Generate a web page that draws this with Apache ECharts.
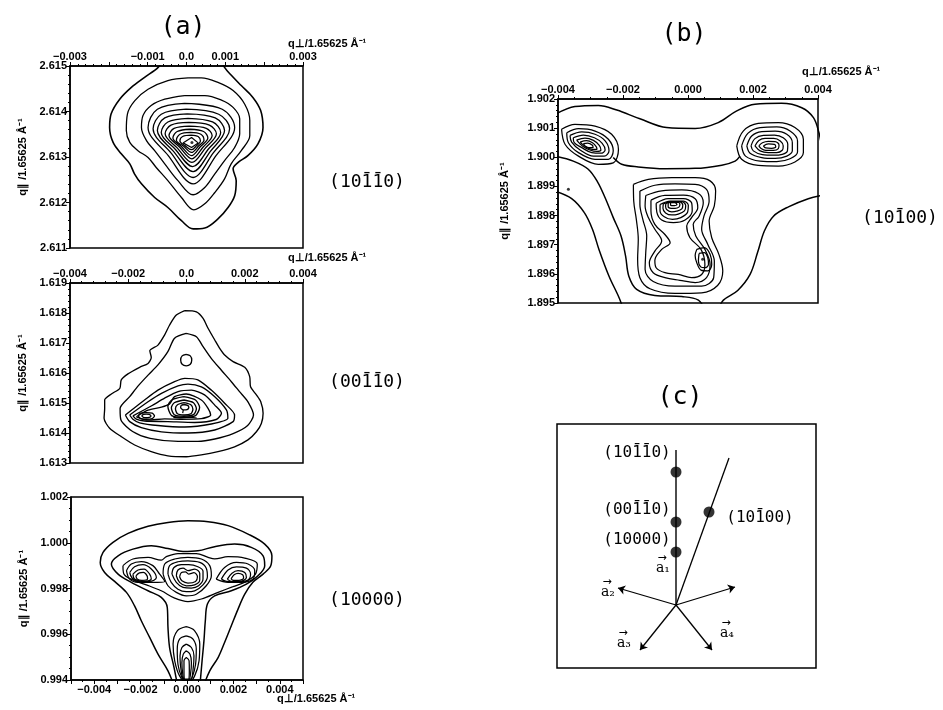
<!DOCTYPE html>
<html><head><meta charset="utf-8">
<script src="https://cdn.jsdelivr.net/npm/echarts@6/dist/echarts.min.js"></script>
<style>html,body{margin:0;padding:0;background:#fff}#c{width:943px;height:710px}</style>
</head><body><div id="c"></div>
<script>
// ---------- DATA (contours in units of 1e-3: [q_perp, q_par] pairs, flattened) ----------
const MINUS = '\u2212';
const a1XTickValues = [-0.003,-0.002,-0.001,0,0.001,0.002,0.003];
const a1XTickLabels = [MINUS+'0.003','',MINUS+'0.001','0.0','0.001','','0.003'];
const a1YTickValues = [2.611,2.612,2.613,2.614,2.615];
const a1YTickLabels = ['2.611','2.612','2.613','2.614','2.615'];
const a2XTickValues = [-0.004,-0.002,0,0.002,0.004];
const a2XTickLabels = [MINUS+'0.004',MINUS+'0.002','0.0','0.002','0.004'];
const a2YTickValues = [1.613,1.614,1.615,1.616,1.617,1.618,1.619];
const a2YTickLabels = ['1.613','1.614','1.615','1.616','1.617','1.618','1.619'];
const a3XTickValues = [-0.004,-0.002,0,0.002,0.004];
const a3XTickLabels = [MINUS+'0.004',MINUS+'0.002','0.000','0.002','0.004'];
const a3YTickValues = [0.994,0.996,0.998,1.000,1.002];
const a3YTickLabels = ['0.994','0.996','0.998','1.000','1.002'];
const bXTickValues = [-0.004,-0.002,0,0.002,0.004];
const bXTickLabels = [MINUS+'0.004',MINUS+'0.002','0.000','0.002','0.004'];
const bYTickValues = [1.895,1.896,1.897,1.898,1.899,1.900,1.901,1.902];
const bYTickLabels = ['1.895','1.896','1.897','1.898','1.899','1.900','1.901','1.902'];

// Panel (a) top: (10-1-10)
const a1Open = [
 [-0.48,2615.26,-0.73,2614.97,-1.08,2614.75,-1.42,2614.53,-1.72,2614.27,-1.94,2613.95,-1.98,2613.65,-1.89,2613.32,-1.68,2613.07,-1.46,2612.85,-1.34,2612.63,-1.16,2612.41,-0.82,2612.11,-0.48,2611.89,-0.13,2611.60,0.17,2611.42,0.47,2611.44,0.81,2611.64,1.07,2611.89,1.24,2612.15,1.28,2612.48,1.20,2612.74,1.33,2612.88,1.58,2613.03,1.84,2613.29,1.97,2613.65,1.91,2614.02,1.71,2614.31,1.41,2614.57,1.16,2614.79,0.98,2614.97,0.81,2615.26]
];
const a1Closed = [
 [0.04,2614.74,-0.48,2614.68,-0.99,2614.49,-1.33,2614.24,-1.52,2613.95,-1.55,2613.58,-1.46,2613.32,-1.25,2613.14,-0.99,2612.99,-0.78,2612.77,-0.48,2612.48,-0.13,2612.11,0.19,2611.84,0.47,2611.97,0.73,2612.22,0.98,2612.52,1.15,2612.85,1.41,2613.14,1.63,2613.47,1.63,2613.80,1.50,2614.16,1.20,2614.46,0.81,2614.64,0.38,2614.74],
 [-0.05,2614.35,-0.56,2614.27,-0.91,2614.13,-1.12,2613.91,-1.16,2613.65,-1.03,2613.36,-0.82,2613.14,-0.56,2612.85,-0.22,2612.48,0.17,2612.17,0.47,2612.33,0.73,2612.63,0.98,2612.92,1.24,2613.21,1.37,2613.51,1.37,2613.84,1.20,2614.09,0.90,2614.25,0.47,2614.35],
 [-0.05,2614.18,0.92,2614.05,1.24,2613.65,0.76,2613.03,0.17,2612.41,-0.47,2613.03,-0.99,2613.65,-0.75,2614.05],
 [-0.01,2614.05,0.83,2613.94,1.11,2613.62,0.69,2613.09,0.17,2612.55,-0.40,2613.09,-0.86,2613.62,-0.65,2613.94],
 [0.02,2613.95,0.74,2613.86,0.98,2613.58,0.62,2613.13,0.17,2612.68,-0.34,2613.13,-0.75,2613.58,-0.56,2613.86],
 [0.04,2613.85,0.67,2613.77,0.88,2613.54,0.56,2613.17,0.16,2612.79,-0.29,2613.17,-0.65,2613.54,-0.48,2613.77],
 [0.06,2613.76,0.59,2613.70,0.77,2613.51,0.49,2613.20,0.14,2612.88,-0.24,2613.20,-0.55,2613.51,-0.40,2613.70],
 [0.07,2613.68,0.51,2613.63,0.66,2613.47,0.43,2613.22,0.14,2612.96,-0.18,2613.22,-0.45,2613.47,-0.32,2613.63],
 [0.09,2613.61,0.44,2613.56,0.55,2613.42,0.36,2613.23,0.13,2613.03,-0.13,2613.23,-0.35,2613.42,-0.24,2613.56],
 [0.10,2613.54,0.37,2613.50,0.45,2613.37,0.31,2613.24,0.13,2613.10,-0.08,2613.24,-0.26,2613.37,-0.17,2613.50],
 [0.12,2613.48,0.30,2613.45,0.36,2613.35,0.26,2613.25,0.13,2613.16,-0.04,2613.25,-0.17,2613.35,-0.10,2613.45]
];
const a1Sharp = [[0.13,2613.43,0.30,2613.31,0.13,2613.21,-0.09,2613.31]];
const a1Peak = [[0.14,2613.32]];

// Panel (a) middle: (00-1-10)
const a2Open = [
 [-0.11,1614.77,-0.13,1614.66],
 [-0.45,1614.52,-0.2,1614.50,0.1,1614.53,0.35,1614.50]
];
const a2Closed = [
 [-0.06,1618.08,0.34,1618.04,0.57,1617.82,0.74,1617.49,0.97,1617.10,1.14,1616.82,1.31,1616.60,1.60,1616.38,2.00,1616.19,2.17,1615.88,2.20,1615.54,2.40,1615.27,2.55,1615.04,2.63,1614.66,2.57,1614.32,2.40,1614.04,2.11,1613.77,1.65,1613.54,1.08,1613.38,0.51,1613.27,-0.01,1613.21,-0.64,1613.24,-1.21,1613.38,-1.78,1613.60,-2.24,1613.88,-2.64,1614.16,-2.83,1614.49,-2.81,1614.82,-2.81,1615.10,-2.58,1615.30,-2.29,1615.49,-2.24,1615.77,-2.01,1615.97,-1.61,1616.19,-1.32,1616.32,-1.21,1616.52,-1.26,1616.74,-0.98,1616.93,-0.75,1617.27,-0.58,1617.60,-0.35,1617.93],
 [-0.01,1617.32,-0.41,1617.16,-0.64,1616.71,-0.98,1616.27,-1.32,1615.93,-1.66,1615.57,-1.95,1615.21,-2.28,1614.82,-2.25,1614.43,-1.85,1614.05,-1.25,1613.82,-0.29,1613.72,0.39,1613.72,0.97,1613.80,1.60,1613.98,2.10,1614.25,2.30,1614.60,2.11,1615.04,1.82,1615.38,1.54,1615.71,1.19,1616.10,0.85,1616.49,0.57,1616.88,0.34,1617.21],
 [-0.01,1616.62,0.13,1616.57,0.18,1616.43,0.13,1616.29,-0.01,1616.24,-0.15,1616.29,-0.20,1616.43,-0.15,1616.57],
 [-2.10,1614.60,-1.44,1615.10,-0.98,1615.43,-0.41,1615.71,-0.06,1615.82,0.39,1615.77,0.85,1615.43,1.31,1614.99,1.65,1614.60,1.60,1614.38,0.97,1614.10,0.05,1614.00,-0.86,1614.04,-1.55,1614.18,-1.95,1614.38],
 [-1.95,1614.60,-1.32,1615.04,-0.86,1615.32,-0.29,1615.57,0.05,1615.63,0.51,1615.54,0.97,1615.21,1.37,1614.77,1.42,1614.49,0.85,1614.30,-0.06,1614.20,-0.98,1614.25,-1.61,1614.34,-1.84,1614.46],
 [-1.84,1614.57,-1.21,1614.90,-0.75,1615.16,-0.29,1615.38,0.17,1615.43,0.62,1615.27,0.97,1614.93,1.20,1614.66,1.02,1614.45,0.28,1614.35,-0.64,1614.38,-1.44,1614.40,-1.72,1614.46],
 [-1.72,1614.54,-1.32,1614.76,-0.86,1614.86,-0.58,1614.97,-0.41,1615.21,-0.01,1615.30,0.51,1615.10,0.74,1614.82,0.83,1614.60,0.51,1614.48,-0.18,1614.46,-0.75,1614.47,-1.32,1614.43],
 [-1.66,1614.57,-1.58,1614.66,-1.38,1614.68,-1.18,1614.66,-1.10,1614.57,-1.18,1614.48,-1.38,1614.46,-1.58,1614.48],
 [-1.54,1614.57,-1.48,1614.62,-1.38,1614.63,-1.28,1614.62,-1.22,1614.57,-1.28,1614.52,-1.38,1614.51,-1.48,1614.52],
 [-0.10,1615.21,0.31,1615.10,0.45,1614.85,0.31,1614.58,-0.10,1614.52,-0.51,1614.58,-0.64,1614.89,-0.51,1615.10],
 [-0.09,1615.10,0.24,1615.01,0.34,1614.81,0.24,1614.61,-0.09,1614.56,-0.42,1614.61,-0.52,1614.84,-0.42,1615.01],
 [-0.08,1615.01,0.15,1614.94,0.22,1614.79,0.15,1614.64,-0.08,1614.60,-0.31,1614.64,-0.38,1614.81,-0.31,1614.94],
 [-0.09,1614.95,0.04,1614.92,0.08,1614.85,0.02,1614.78,-0.11,1614.77,-0.20,1614.84,-0.18,1614.92]
];

// Panel (a) bottom: (10000)
const a3Open = [
 [-0.53,993.67,-0.82,994.40,-1.25,995.13,-1.61,995.86,-1.97,996.59,-2.26,997.24,-2.61,997.83,-3.12,998.31,-3.55,998.70,-3.74,999.14,-3.62,999.58,-3.19,1000.02,-2.54,1000.41,-1.68,1000.72,-0.82,1000.89,0.04,1000.96,0.91,1000.92,1.77,1000.75,2.63,1000.38,3.35,999.94,3.66,999.43,3.61,998.99,3.28,998.63,2.84,998.27,2.49,997.75,2.20,997.10,1.91,996.37,1.62,995.64,1.34,994.98,0.98,994.40,0.69,993.67],
 [-0.39,993.67,-0.56,994.55,-0.75,995.42,-0.82,996.30,-0.85,997.17,-1.11,997.61,-1.68,997.90,-2.40,998.27,-2.97,998.63,-3.26,999.07,-2.97,999.43,-2.33,999.72,-1.54,999.87,-0.82,999.75,-0.17,999.62,0.47,999.65,1.19,999.83,2.05,999.94,2.77,999.80,3.28,999.43,3.35,999.00,3.06,998.56,2.56,998.19,1.91,997.90,1.19,997.68,0.88,997.32,0.79,996.59,0.73,995.71,0.65,994.84,0.55,993.67]
];
const a3Closed = [
 [-2.76,999.00,-2.33,999.29,-1.68,999.36,-1.11,999.24,-0.89,999.39,-0.39,999.53,0.40,999.53,0.91,999.36,1.19,999.29,1.77,999.39,2.49,999.33,3.03,999.07,2.95,998.63,2.56,998.31,1.98,998.08,1.34,997.83,0.62,997.54,0.04,997.43,-0.53,997.58,-1.11,997.90,-1.75,998.16,-2.33,998.37,-2.72,998.63],
 [-2.61,998.78,-2.40,999.07,-1.97,999.18,-1.47,999.00,-1.18,998.63,-0.96,998.31,-1.54,998.27,-2.11,998.27,-2.47,998.41],
 [-2.47,998.70,-2.26,998.95,-1.90,999.04,-1.54,998.85,-1.32,998.48,-1.61,998.31,-2.11,998.31,-2.37,998.46],
 [-2.33,998.63,-2.11,998.81,-1.85,998.85,-1.61,998.63,-1.54,998.41,-1.90,998.31,-2.26,998.41],
 [-2.20,998.55,-2.05,998.68,-1.88,998.70,-1.72,998.55,-1.70,998.42,-1.95,998.36,-2.15,998.42],
 [1.26,998.41,1.62,998.92,2.13,999.14,2.63,999.07,2.92,998.78,2.84,998.41,2.34,998.27,1.77,998.27],
 [1.48,998.41,1.77,998.81,2.13,998.95,2.56,998.89,2.74,998.63,2.63,998.37,2.13,998.29,1.70,998.31],
 [1.74,998.41,1.94,998.67,2.20,998.78,2.49,998.70,2.56,998.48,2.27,998.31,1.91,998.31],
 [1.90,998.42,2.03,998.60,2.20,998.66,2.40,998.60,2.44,998.46,2.24,998.36,2.00,998.36],
 [-1.03,998.63,-0.96,999.07,-0.53,999.29,0.04,999.36,0.62,999.29,0.98,999.00,1.05,998.56,0.83,998.12,0.40,997.75,-0.03,997.68,-0.46,997.83,-0.82,998.12],
 [-0.82,998.63,-0.75,999.00,-0.39,999.17,0.04,999.21,0.55,999.14,0.83,998.89,0.88,998.51,0.69,998.16,0.33,997.90,-0.03,997.86,-0.39,997.97,-0.68,998.27],
 [-0.65,998.63,-0.56,998.92,-0.24,999.04,0.07,999.04,0.47,998.95,0.69,998.75,0.69,998.41,0.50,998.12,0.19,998.02,-0.17,998.05,-0.46,998.27],
 [-0.46,998.56,-0.39,998.81,-0.17,998.89,0.04,998.78,0.33,998.85,0.55,998.66,0.55,998.37,0.33,998.16,-0.03,998.12,-0.32,998.27],
 [-0.32,998.51,-0.24,998.70,-0.07,998.73,0.07,998.63,0.30,998.69,0.45,998.51,0.37,998.31,0.04,998.24,-0.22,998.34],
 [-0.03,996.33,0.33,996.15,0.55,995.57,0.52,994.84,0.33,994.18,0.04,993.82,-0.32,994.18,-0.53,994.84,-0.60,995.57,-0.42,996.15],
 [-0.03,995.93,0.26,995.79,0.40,995.35,0.37,994.69,0.22,994.11,0.04,993.82,-0.22,994.11,-0.39,994.69,-0.42,995.35,-0.32,995.79],
 [-0.03,995.57,0.19,995.42,0.30,995.06,0.27,994.55,0.16,994.04,-0.13,994.04,-0.27,994.55,-0.30,995.06,-0.22,995.42],
 [-0.03,995.28,0.13,995.13,0.19,994.76,0.16,994.33,0.07,993.96,-0.10,993.96,-0.19,994.33,-0.22,994.76,-0.16,995.13],
 [-0.03,994.98,0.09,994.84,0.10,994.40,0.04,993.96,-0.07,993.96,-0.13,994.40,-0.13,994.84]
];

// Panel (b): (10-100)
const bOpen = [
 [-4.09,1901.47,-3.48,1901.74,-2.76,1901.78,-2.19,1901.62,-1.48,1901.32,-0.66,1901.02,0.22,1900.99,0.93,1901.19,1.50,1901.59,2.06,1901.82,2.88,1901.85,3.50,1901.70,3.86,1901.36,4.03,1900.84,4.11,1900.39],
 [-4.09,1898.84,-3.58,1898.58,-3.19,1898.10,-2.94,1897.53,-2.74,1896.84,-2.43,1895.92,-2.12,1895.18,-1.99,1894.78],
 [-4.09,1900.04,-3.53,1899.87,-3.07,1899.59,-2.78,1899.15,-2.55,1898.61,-2.30,1897.93,-2.06,1897.30,-1.92,1896.61,-1.82,1895.92,-1.58,1895.47,-1.02,1895.26,-0.19,1895.22,0.32,1895.10,0.65,1894.67,0.81,1894.67,1.09,1895.10,1.53,1895.43,1.91,1895.98,2.14,1896.73,2.35,1897.47,2.63,1897.98,3.09,1898.30,3.70,1898.58,4.11,1898.69],
 [-2.30,1899.99,-2.04,1899.76,-1.53,1899.67,-0.71,1899.61,0.22,1899.62,1.04,1899.73,1.45,1899.87,1.60,1900.04]
];
const bClosed = [
 [-1.68,1899.07,-1.22,1899.24,-0.50,1899.30,0.22,1899.30,0.68,1899.19,0.85,1898.84,0.81,1898.33,0.65,1897.81,0.73,1897.24,0.95,1896.67,1.07,1896.10,0.91,1895.60,0.42,1895.35,-0.40,1895.33,-1.17,1895.49,-1.48,1895.87,-1.55,1896.50,-1.53,1897.18,-1.59,1897.87,-1.67,1898.50],
 [-1.48,1898.84,-1.02,1899.04,-0.40,1899.09,0.22,1899.07,0.57,1898.90,0.65,1898.50,0.49,1897.98,0.42,1897.53,0.61,1897.01,0.81,1896.44,0.79,1895.87,0.42,1895.58,-0.40,1895.58,-1.07,1895.74,-1.32,1896.15,-1.30,1896.73,-1.27,1897.30,-1.39,1897.87,-1.48,1898.38],
 [-1.30,1898.69,-0.81,1898.85,-0.19,1898.88,0.32,1898.76,0.47,1898.44,0.34,1897.98,0.16,1897.70,0.24,1897.30,0.52,1896.84,0.68,1896.32,0.57,1895.87,0.22,1895.70,-0.25,1895.78,-0.71,1895.87,-1.07,1896.04,-1.19,1896.38,-1.02,1896.78,-0.81,1897.13,-1.02,1897.53,-1.22,1897.93,-1.32,1898.33],
 [-1.14,1898.53,-0.71,1898.69,-0.14,1898.70,0.22,1898.58,0.30,1898.27,0.11,1897.93,-0.04,1897.64,0.06,1897.24,0.40,1896.84,0.52,1896.32,0.42,1895.98,0.11,1895.87,-0.30,1895.98,-0.71,1896.04,-0.98,1896.21,-1.02,1896.47,-0.81,1896.84,-0.55,1897.07,-0.71,1897.35,-1.02,1897.70,-1.14,1898.16],
 [-0.98,1898.42,-0.61,1898.58,-0.14,1898.58,0.11,1898.44,0.13,1898.16,-0.09,1897.85,-0.45,1897.76,-0.81,1897.85,-0.96,1898.12],
 [-0.86,1898.38,-0.55,1898.50,-0.14,1898.50,0.01,1898.35,-0.01,1898.12,-0.22,1897.93,-0.48,1897.87,-0.73,1897.96,-0.86,1898.16],
 [-0.76,1898.40,-0.50,1898.48,-0.19,1898.48,-0.07,1898.34,-0.11,1898.16,-0.30,1898.05,-0.50,1898.02,-0.69,1898.09,-0.77,1898.25],
 [-0.68,1898.42,-0.48,1898.47,-0.25,1898.47,-0.16,1898.36,-0.19,1898.23,-0.35,1898.15,-0.50,1898.13,-0.64,1898.19,-0.69,1898.31],
 [-0.61,1898.44,-0.45,1898.45,-0.30,1898.45,-0.25,1898.38,-0.28,1898.29,-0.40,1898.25,-0.52,1898.25,-0.61,1898.30],
 [-0.54,1898.44,-0.40,1898.44,-0.34,1898.38,-0.42,1898.34,-0.53,1898.35],
 [0.27,1896.84,0.50,1896.90,0.68,1896.67,0.73,1896.32,0.61,1896.10,0.40,1896.13,0.27,1896.38,0.22,1896.63],
 [0.34,1896.70,0.50,1896.73,0.61,1896.55,0.63,1896.32,0.52,1896.21,0.39,1896.24,0.32,1896.44],
 [-3.89,1900.96,-3.48,1901.13,-2.86,1901.07,-2.35,1900.79,-2.14,1900.27,-2.30,1899.81,-2.76,1899.76,-3.37,1900.04,-3.78,1900.44],
 [-3.73,1900.84,-3.37,1900.98,-2.86,1900.90,-2.45,1900.62,-2.30,1900.22,-2.45,1899.93,-2.86,1899.93,-3.37,1900.16,-3.68,1900.50],
 [-3.63,1900.75,-3.27,1900.87,-2.86,1900.79,-2.55,1900.56,-2.43,1900.22,-2.58,1900.04,-2.91,1900.04,-3.32,1900.25,-3.58,1900.52],
 [-3.53,1900.67,-3.22,1900.76,-2.88,1900.67,-2.64,1900.48,-2.55,1900.25,-2.68,1900.14,-2.96,1900.16,-3.27,1900.33,-3.50,1900.50],
 [-3.43,1900.59,-3.17,1900.66,-2.91,1900.58,-2.73,1900.41,-2.68,1900.25,-2.80,1900.20,-3.02,1900.25,-3.25,1900.39],
 [-3.32,1900.52,-3.12,1900.57,-2.94,1900.50,-2.82,1900.36,-2.80,1900.27,-2.94,1900.27,-3.15,1900.36],
 [-3.22,1900.47,-3.09,1900.49,-2.94,1900.41,-2.92,1900.33,-3.05,1900.33,-3.17,1900.39],
 [1.50,1900.39,1.70,1900.90,2.16,1901.16,2.78,1901.19,3.29,1901.02,3.55,1900.62,3.55,1900.16,3.29,1899.84,2.78,1899.70,2.16,1899.72,1.65,1899.93],
 [1.65,1900.39,1.84,1900.82,2.22,1901.02,2.73,1901.04,3.14,1900.90,3.37,1900.56,3.37,1900.18,3.14,1899.95,2.73,1899.85,2.22,1899.87,1.77,1900.04],
 [1.81,1900.39,1.96,1900.73,2.27,1900.88,2.68,1900.90,3.04,1900.79,3.21,1900.50,3.21,1900.22,3.04,1900.04,2.68,1899.96,2.27,1899.99,1.91,1900.14],
 [1.94,1900.39,2.06,1900.64,2.32,1900.75,2.66,1900.76,2.93,1900.67,3.07,1900.44,3.06,1900.22,2.90,1900.10,2.63,1900.07,2.29,1900.09,2.01,1900.22],
 [2.06,1900.39,2.18,1900.58,2.37,1900.65,2.64,1900.65,2.84,1900.56,2.93,1900.39,2.90,1900.24,2.73,1900.16,2.47,1900.16,2.22,1900.22],
 [2.18,1900.39,2.29,1900.50,2.47,1900.55,2.68,1900.54,2.80,1900.42,2.78,1900.30,2.63,1900.24,2.39,1900.24,2.25,1900.30],
 [2.32,1900.39,2.47,1900.46,2.66,1900.44,2.70,1900.36,2.57,1900.31,2.39,1900.32]
];
const bPeaks = [[0.45,1896.50],[-3.68,1898.90]];

// Panel (c): schematic of reciprocal-lattice directions (arbitrary units)
const cAxisLine = [[0,0],[0,1.55]];
const cSlantLine = [[0,0],[0.53,1.47]];
const cReflections = [[0,1.33],[0,0.83],[0,0.53],[0.33,0.93]];
const cVectors = [[-0.58,0.17],[0.59,0.18],[-0.36,-0.45],[0.36,-0.45]];

// ---------- BUILD ----------
const FONT = '"Liberation Sans", Arial, sans-serif';
const MONO = '"DejaVu Sans Mono", monospace';
function fmt(vals, texts) {
  return function (v) {
    for (var i = 0; i < vals.length; i++) if (Math.abs(v - vals[i]) < 1e-7) return texts[i];
    return '';
  };
}
function contourSeries(list, closed, ax, smooth, width) {
  return list.map(function (flat) {
    var pts = [];
    for (var i = 0; i < flat.length; i += 2) pts.push([flat[i] / 1000, flat[i + 1] / 1000]);
    if (closed) pts.push(pts[0].slice());
    return {type: 'line', xAxisIndex: ax, yAxisIndex: ax, data: pts, showSymbol: false, symbol: 'none',
      smooth: smooth, clip: true, silent: true, lineStyle: {color: '#000', width: width}, z: 3};
  });
}
function peakSeries(list, ax, size) {
  return {type: 'scatter', xAxisIndex: ax, yAxisIndex: ax, symbolSize: size, silent: true,
    itemStyle: {color: '#000'}, data: list.map(function (p) { return [p[0] / 1000, p[1] / 1000]; })};
}
function xAx(gi, min, max, interval, pos, vals, texts, minorSplit) {
  return {type: 'value', gridIndex: gi, min: min, max: max, interval: interval, position: pos,
    axisLine: {show: true, onZero: false, lineStyle: {color: '#000', width: 1.5}},
    axisTick: {show: true, inside: false, length: 4, lineStyle: {color: '#000', width: 1}},
    minorTick: {show: true, splitNumber: minorSplit, length: 2, lineStyle: {color: '#000'}},
    splitLine: {show: false}, minorSplitLine: {show: false},
    axisLabel: {margin: 4, color: '#000', fontFamily: FONT, fontWeight: 'bold', fontSize: 11,
      showMinLabel: true, showMaxLabel: true, hideOverlap: false, formatter: fmt(vals, texts)}};
}
const Y_NAME = 'q\u2225 /1.65625 \u00C5\u207B\u00B9';
const X_NAME = 'q\u22A5/1.65625 \u00C5\u207B\u00B9';
function yAx(gi, min, max, interval, vals, texts, minorSplit, gap) {
  return {type: 'value', gridIndex: gi, min: min, max: max, interval: interval, position: 'left',
    name: Y_NAME, nameLocation: 'middle', nameGap: gap, nameRotate: 90,
    nameTextStyle: {fontFamily: FONT, fontWeight: 'bold', fontSize: 11, color: '#000'},
    axisLine: {show: true, onZero: false, lineStyle: {color: '#000', width: 1.5}},
    axisTick: {show: true, inside: false, length: 4, lineStyle: {color: '#000', width: 1}},
    minorTick: {show: true, splitNumber: minorSplit, length: 2, lineStyle: {color: '#000'}},
    splitLine: {show: false}, minorSplitLine: {show: false},
    axisLabel: {margin: 3, color: '#000', fontFamily: FONT, fontWeight: 'bold', fontSize: 11,
      showMinLabel: true, showMaxLabel: true, hideOverlap: false, formatter: fmt(vals, texts)}};
}
function gridBox(l, t, w, h) {
  return {left: l, top: t, width: w, height: h, show: true, borderColor: '#000', borderWidth: 1.5,
    backgroundColor: 'transparent', containLabel: false};
}
function txt(text, x, y, font, align) {
  return {type: 'text', x: x, y: y, silent: true,
    style: {text: text, font: font, fill: '#000', align: align || 'center', verticalAlign: 'middle',
      textAlign: align || 'center', textVerticalAlign: 'middle'}};
}
// Miller index label: digits + overline row drawn as a second monospace text line
function miller(text, bars, x, y, size) {
  return [txt(text, x, y, 'normal ' + size + 'px ' + MONO),
          txt(bars, x, y - Math.round(size * 0.12), 'normal ' + size + 'px ' + MONO)];
}
function vecLabel(sub, x, y) {
  return [txt('a' + sub, x, y, 'normal 14px "DejaVu Serif", serif'),
          txt('\u2192', x - 1, y - 10, 'normal 11px "DejaVu Sans", sans-serif')];
}

var series = [];
series = series.concat(contourSeries(a1Open, false, 0, 0.35, 1.6));
series = series.concat(contourSeries(a1Closed, true, 0, 0.35, 1.3));
series = series.concat(contourSeries(a1Sharp, true, 0, 0, 1.2));
series.push(peakSeries(a1Peak, 0, 3));
series = series.concat(contourSeries(a2Closed, true, 1, 0.25, 1.35));
series = series.concat(contourSeries(a2Open, false, 1, 0, 1.2));
series = series.concat(contourSeries(a3Open, false, 2, 0.35, 1.5));
series = series.concat(contourSeries(a3Closed, true, 2, 0.35, 1.25));
series = series.concat(contourSeries(bOpen, false, 3, 0.35, 1.5));
series = series.concat(contourSeries(bClosed, true, 3, 0.35, 1.25));
series.push(peakSeries(bPeaks, 3, 3));
// panel (c)
series.push({type: 'line', xAxisIndex: 4, yAxisIndex: 4, data: cAxisLine, showSymbol: false, symbol: 'none', silent: true, lineStyle: {color: '#000', width: 1.4}});
series.push({type: 'line', xAxisIndex: 4, yAxisIndex: 4, data: cSlantLine, showSymbol: false, symbol: 'none', silent: true, lineStyle: {color: '#000', width: 1.3}});
series.push({type: 'scatter', xAxisIndex: 4, yAxisIndex: 4, data: cReflections, symbolSize: 11, silent: true, itemStyle: {color: '#000'}});
series.push({type: 'lines', coordinateSystem: 'cartesian2d', xAxisIndex: 4, yAxisIndex: 4, silent: true,
  symbol: ['none', 'arrow'], symbolSize: 7,
  lineStyle: {color: '#000', width: 1.3, opacity: 1, curveness: 0},
  data: cVectors.map(function (v) { return {coords: [[0, 0], v]}; })});

var graphics = [
  txt('(a)', 183, 27, 'normal 25px ' + MONO),
  txt('(b)', 684, 34, 'normal 25px ' + MONO),
  txt('(c)', 680, 397, 'normal 25px ' + MONO),
  txt(X_NAME, 288, 44, 'bold 11px ' + FONT, 'left'),
  txt(X_NAME, 288, 258, 'bold 11px ' + FONT, 'left'),
  txt(X_NAME, 277, 699, 'bold 11px ' + FONT, 'left'),
  txt(X_NAME, 802, 72, 'bold 11px ' + FONT, 'left')
];
graphics = graphics.concat(
  miller('(10110)', '   \u00AF\u00AF  ', 367, 182, 18),
  miller('(00110)', '   \u00AF\u00AF  ', 367, 382, 18),
  miller('(10000)', '       ', 367, 600, 18),
  miller('(10100)', '   \u00AF   ', 900, 218, 18),
  miller('(10110)', '   \u00AF\u00AF  ', 637, 453, 16),
  miller('(00110)', '   \u00AF\u00AF  ', 637, 510, 16),
  miller('(10000)', '       ', 637, 540, 16),
  miller('(10100)', '   \u00AF   ', 760, 518, 16),
  vecLabel('\u2081', 663, 568),
  vecLabel('\u2082', 608, 592),
  vecLabel('\u2083', 624, 643),
  vecLabel('\u2084', 727, 633)
);

var option = {
  animation: false,
  backgroundColor: '#fff',
  grid: [gridBox(70, 66, 233, 182), gridBox(70, 283, 233, 180), gridBox(71, 497, 232, 183), gridBox(558, 99, 260, 204), gridBox(557, 424, 259, 244)],
  xAxis: [
    xAx(0, -0.003, 0.003, 0.001, 'top', a1XTickValues, a1XTickLabels, 5),
    xAx(1, -0.004, 0.004, 0.002, 'top', a2XTickValues, a2XTickLabels, 5),
    xAx(2, -0.005, 0.005, 0.001, 'bottom', a3XTickValues, a3XTickLabels, 2),
    xAx(3, -0.004, 0.004, 0.002, 'top', bXTickValues, bXTickLabels, 4),
    {type: 'value', gridIndex: 4, min: -1.19, max: 1.40, show: false}
  ],
  yAxis: [
    yAx(0, 2.611, 2.615, 0.001, a1YTickValues, a1YTickLabels, 5, 42),
    yAx(1, 1.613, 1.619, 0.001, a2YTickValues, a2YTickLabels, 5, 42),
    yAx(2, 0.994, 1.002, 0.002, a3YTickValues, a3YTickLabels, 4, 42),
    yAx(3, 1.895, 1.902, 0.001, bYTickValues, bYTickLabels, 5, 48),
    {type: 'value', gridIndex: 4, min: -0.63, max: 1.81, show: false}
  ],
  series: series,
  graphic: graphics
};
var chart = echarts.init(document.getElementById('c'), null, {renderer: 'canvas', width: 943, height: 710});
chart.setOption(option);
</script></body></html>
